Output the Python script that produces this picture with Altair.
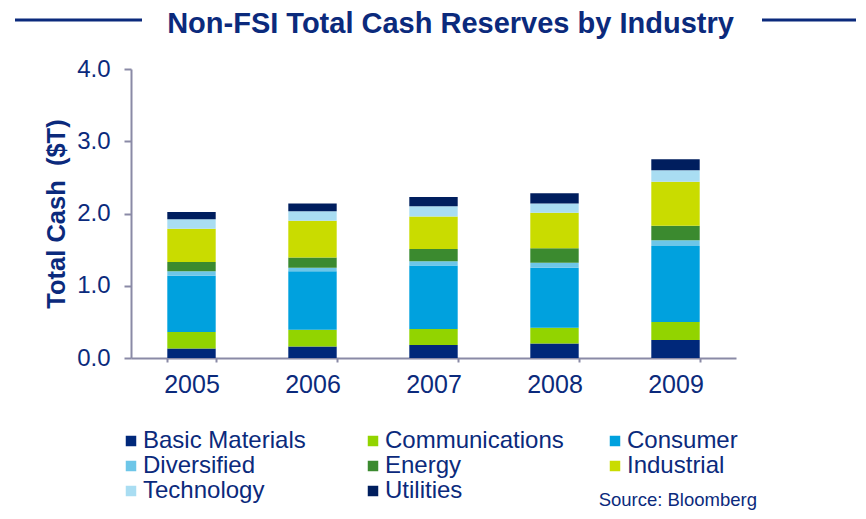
import altair as alt
import pandas as pd

years = ["2005", "2006", "2007", "2008", "2009"]
industries = ["Basic Materials", "Communications", "Consumer", "Diversified",
              "Energy", "Industrial", "Technology", "Utilities"]
colors = ["#00287A", "#92D400", "#00A1DE", "#6DC6E8",
          "#3B8A2F", "#C9DC00", "#A9DDF2", "#001E5E"]

basic_materials = [0.13, 0.16, 0.18, 0.20, 0.25]
communications = [0.23, 0.23, 0.22, 0.22, 0.25]
consumer = [0.78, 0.81, 0.88, 0.83, 1.05]
diversified = [0.06, 0.05, 0.06, 0.07, 0.08]
energy = [0.13, 0.14, 0.17, 0.20, 0.20]
industrial = [0.46, 0.51, 0.45, 0.49, 0.61]
technology = [0.13, 0.13, 0.14, 0.13, 0.16]
utilities = [0.10, 0.11, 0.13, 0.14, 0.15]

series = [basic_materials, communications, consumer, diversified,
          energy, industrial, technology, utilities]

rows = []
for i, (name, vals) in enumerate(zip(industries, series)):
    for y, v in zip(years, vals):
        rows.append({"Year": y, "Industry": name, "Cash": v, "idx": i})
df = pd.DataFrame(rows)

NAVY = "#0B2A7C"
AXIS = "#8A8AA6"
FONT = "Liberation Sans"

bars = alt.Chart(df).mark_bar().encode(
    x=alt.X("Year:N", sort=years, title=None,
            scale=alt.Scale(paddingInner=0.6, paddingOuter=0.3),
            axis=alt.Axis(labelAngle=0, labelFontSize=25, labelColor=NAVY, labelFont=FONT,
                          domainColor=AXIS, tickColor=AXIS, domainWidth=2, tickWidth=2,
                          tickSize=4, tickBand="extent", labelPadding=10)),
    y=alt.Y("Cash:Q", stack="zero", title="Total Cash\u00a0 ($T)",
            scale=alt.Scale(domain=[0, 4], nice=False),
            axis=alt.Axis(values=[0, 1, 2, 3, 4], format=".1f", grid=False,
                          labelFontSize=24, labelColor=NAVY, labelFont=FONT,
                          domainColor=AXIS, tickColor=AXIS, domainWidth=2, tickWidth=2,
                          tickSize=7, labelPadding=14,
                          titleFontSize=25.5, titleFont=FONT, titleFontWeight="bold",
                          titleColor=NAVY, titlePadding=7)),
    color=alt.Color("Industry:N",
                    scale=alt.Scale(domain=industries, range=colors),
                    legend=alt.Legend(title=None, orient="none", legendX=-12, legendY=360,
                                      columns=3, direction="horizontal", gridAlign="all",
                                      columnPadding=39, rowPadding=1, symbolType="square",
                                      symbolSize=110, symbolStrokeWidth=0, labelFontSize=24,
                                      labelFont=FONT, labelColor=NAVY, labelOffset=0,
                                      labelLimit=400)),
    order=alt.Order("idx:Q", sort="ascending"),
)

source = alt.Chart(pd.DataFrame({"t": ["Source: Bloomberg"]})).mark_text(
    align="right", baseline="middle", fontSize=18.5, font=FONT, color=NAVY
).encode(text="t:N", x=alt.value(626), y=alt.value(431))

line_l = alt.Chart(pd.DataFrame({"a": [0]})).mark_rule(color="#0B2A7C", strokeWidth=3).encode(
    x=alt.value(-116), x2=alt.value(11), y=alt.value(-49))
line_r = alt.Chart(pd.DataFrame({"a": [0]})).mark_rule(color="#0B2A7C", strokeWidth=3).encode(
    x=alt.value(631), x2=alt.value(740), y=alt.value(-49))

chart = alt.layer(bars, source, line_l, line_r).properties(
    width=605, height=289,
    padding={"left": 123, "top": 61, "right": 120, "bottom": 153},
    autosize=alt.AutoSizeParams(type="none"),
    title=alt.TitleParams("Non-FSI Total Cash Reserves by Industry", fontSize=29,
                          font=FONT, fontWeight="bold", color=NAVY, anchor="middle",
                          frame="group", dx=17, dy=30, offset=10),
).configure_view(stroke=None)

chart.save("out.html", embed_options={"renderer": "svg", "actions": False})
